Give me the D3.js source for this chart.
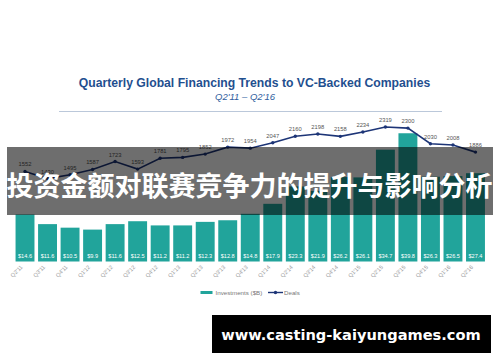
<!DOCTYPE html>
<html>
<head>
<meta charset="utf-8">
<script src="https://cdn.jsdelivr.net/npm/d3@7"></script>
<style>
  body { margin: 0; background: #fff; }
  svg { display: block; }
</style>
</head>
<body>
<div id="chart"></div>
<script>
// quarters, investments ($B) and deal counts
var quarters = ["Q2'11", "Q3'11", "Q4'11", "Q1'12", "Q2'12", "Q3'12", "Q4'12", "Q1'13", "Q2'13", "Q3'13", "Q4'13",
    "Q1'14", "Q2'14", "Q3'14", "Q4'14", "Q1'15", "Q2'15", "Q3'15", "Q4'15", "Q1'16", "Q2'16"];
var investments = [14.6, 11.6, 10.5, 9.9, 11.6, 12.5, 11.2, 11.2, 12.3, 12.8, 14.8,
    17.9, 23.3, 21.9, 26.2, 26.1, 34.7, 39.8, 26.3, 26.5, 27.4];
var deals = [1552, 1430, 1495, 1587, 1723, 1593, 1781, 1795, 1852, 1972, 1954,
    2047, 2160, 2198, 2158, 2234, 2319, 2300, 2030, 2008, 1886];
var legendLabels = ["Investments ($B)", "Deals"];

function main() {

    var width = 500, height = 362;
    var bottom = 261.5, top = 116.5;

    var svg = d3.select("#chart")
        .append("svg")
        .attr("width", width)
        .attr("height", height);

    // title + subtitle
    svg.append("text")
        .attr("x", 254.5)
        .attr("y", 86.5)
        .attr("text-anchor", "middle")
        .attr("font-family", "Liberation Sans, Arial, sans-serif")
        .attr("font-weight", "bold")
        .attr("font-size", "12.2px")
        .attr("fill", "#1f4f8f")
        .text("Quarterly Global Financing Trends to VC-Backed Companies");

    svg.append("text")
        .attr("x", 245)
        .attr("y", 99.5)
        .attr("text-anchor", "middle")
        .attr("font-family", "Liberation Sans, Arial, sans-serif")
        .attr("font-style", "italic")
        .attr("font-size", "9.5px")
        .attr("fill", "#2f5e9e")
        .text("Q2'11 \u2013 Q2'16");

    svg.append("line")
        .attr("x1", 59).attr("x2", 442)
        .attr("y1", 111.5).attr("y2", 111.5)
        .attr("stroke", "#a9bad0")
        .attr("stroke-width", 0.8);

    // scales
    var x = d3.scaleBand()
        .domain(quarters)
        .range([13.75, 486.75])
        .paddingInner(0.16)
        .paddingOuter(0.08);

    var yBar = d3.scaleLinear().domain([0, 45]).range([bottom, top]);
    var yDeal = d3.scaleLinear().domain([0, 2500]).range([bottom, top]);

    var barColor = "#21a49b";
    var lineColor = "#1d3577";

    // bars
    svg.append("g")
        .selectAll("rect")
        .data(investments)
        .join("rect")
        .attr("x", function (d, i) { return x(quarters[i]); })
        .attr("y", function (d) { return yBar(d); })
        .attr("width", x.bandwidth())
        .attr("height", function (d) { return bottom - yBar(d); })
        .attr("fill", barColor);

    // bar value labels
    svg.append("g")
        .selectAll("text")
        .data(investments)
        .join("text")
        .attr("x", function (d, i) { return x(quarters[i]) + x.bandwidth() / 2; })
        .attr("y", bottom - 3.5)
        .attr("text-anchor", "middle")
        .attr("font-family", "Liberation Sans, Arial, sans-serif")
        .attr("font-size", "5.6px")
        .attr("fill", "#fff")
        .text(function (d) { return "$" + d.toFixed(1); });

    // x axis tick labels (rotated)
    var xAxis = d3.axisBottom(x).tickSize(0).tickPadding(0);
    var gx = svg.append("g")
        .attr("transform", "translate(0," + bottom + ")")
        .call(xAxis);
    gx.select(".domain").remove();
    gx.selectAll("text")
        .attr("font-family", "Liberation Sans, Arial, sans-serif")
        .attr("font-size", "5.6px")
        .attr("fill", "#999")
        .attr("text-anchor", "end")
        .attr("dy", null)
        .attr("y", 0)
        .attr("transform", "translate(-2,6) rotate(-45)");

    // deals line
    var line = d3.line()
        .x(function (d, i) { return x(quarters[i]) + x.bandwidth() / 2; })
        .y(function (d) { return yDeal(d); });

    svg.append("path")
        .datum(deals)
        .attr("d", line)
        .attr("fill", "none")
        .attr("stroke", lineColor)
        .attr("stroke-width", 1.6);

    svg.append("g")
        .selectAll("circle")
        .data(deals)
        .join("circle")
        .attr("cx", function (d, i) { return x(quarters[i]) + x.bandwidth() / 2; })
        .attr("cy", function (d) { return yDeal(d); })
        .attr("r", 1.7)
        .attr("fill", lineColor);

    svg.append("g")
        .selectAll("text")
        .data(deals)
        .join("text")
        .attr("x", function (d, i) { return x(quarters[i]) + x.bandwidth() / 2; })
        .attr("y", function (d) { return yDeal(d) - 5; })
        .attr("text-anchor", "middle")
        .attr("font-family", "Liberation Sans, Arial, sans-serif")
        .attr("font-size", "5.8px")
        .attr("fill", "#555")
        .text(function (d) { return d; });

    // legend
    var legend = svg.append("g")
        .attr("font-family", "Liberation Sans, Arial, sans-serif")
        .attr("font-size", "6.2px")
        .attr("fill", "#777");

    legend.append("rect")
        .attr("x", 200.5).attr("y", 291)
        .attr("width", 12).attr("height", 3)
        .attr("fill", barColor);
    legend.append("text")
        .attr("x", 215.5).attr("y", 294.8)
        .text(legendLabels[0]);

    legend.append("line")
        .attr("x1", 268).attr("x2", 283)
        .attr("y1", 292.5).attr("y2", 292.5)
        .attr("stroke", lineColor)
        .attr("stroke-width", 1.4);
    legend.append("circle")
        .attr("cx", 275.5).attr("cy", 292.5)
        .attr("r", 1.7)
        .attr("fill", lineColor);
    legend.append("text")
        .attr("x", 284).attr("y", 294.8)
        .text(legendLabels[1]);

    // overlay banner
    svg.append("rect")
        .attr("x", 7).attr("y", 147)
        .attr("width", 486).attr("height", 68)
        .attr("fill", "rgba(0,0,0,0.57)");

    svg.append("text")
        .attr("x", 249.5)
        .attr("y", 196)
        .attr("text-anchor", "middle")
        .attr("font-family", "Noto Sans CJK SC, sans-serif")
        .attr("font-weight", "bold")
        .attr("font-size", "27px")
        .attr("fill", "#fff")
        .text("投资金额对联赛竞争力的提升与影响分析");

    // watermark box
    svg.append("rect")
        .attr("x", 212).attr("y", 315)
        .attr("width", 279).attr("height", 38)
        .attr("fill", "#000");

    svg.append("text")
        .attr("x", 351)
        .attr("y", 339.5)
        .attr("text-anchor", "middle")
        .attr("font-family", "DejaVu Sans, sans-serif")
        .attr("font-weight", "bold")
        .attr("font-size", "14.6px")
        .attr("fill", "#fff")
        .text("www.casting-kaiyungames.com");
}

main();
</script>
</body>
</html>
